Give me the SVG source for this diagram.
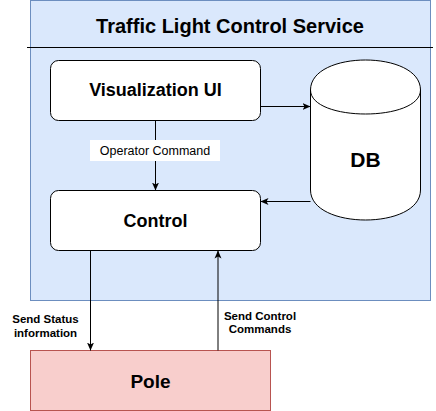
<svg xmlns="http://www.w3.org/2000/svg" width="436" height="411" viewBox="0 0 436 411">
  <defs>
    <marker id="arr" viewBox="0 0 8 8" refX="8" refY="4" markerWidth="8" markerHeight="8" markerUnits="userSpaceOnUse" orient="auto">
      <path d="M0,0.5 L8,4 L0,7.5 L2,4 Z" fill="#000"/>
    </marker>
    <style>
      .box { fill: #ffffff; stroke: #000000; stroke-width: 1; }
      .title { font-family: "Liberation Sans", Arial, sans-serif; font-weight: bold; fill: #000; text-anchor: middle; }
      .lbl { font-family: "Liberation Sans", Arial, sans-serif; fill: #000; text-anchor: middle; }
      .edge { stroke: #000; stroke-width: 1; fill: none; marker-end: url(#arr); }
    </style>
  </defs>

  <g id="container">
    <rect x="30.5" y="0.5" width="400" height="300" fill="#dae8fc" stroke="#6c8ebf" stroke-width="1"/>
    <line x1="27" y1="47.5" x2="433" y2="47.5" stroke="#000" stroke-width="1"/>
    <text class="title" x="230" y="33" font-size="20">Traffic Light Control Service</text>
  </g>

  <g id="visualization-ui">
    <rect class="box" x="50.5" y="60.5" width="210" height="60" rx="8" ry="8"/>
    <text class="title" x="155.5" y="96" font-size="18">Visualization UI</text>
  </g>

  <g id="control">
    <rect class="box" x="50.5" y="190.5" width="210" height="60" rx="8" ry="8"/>
    <text class="title" x="155.5" y="227" font-size="18">Control</text>
  </g>

  <g id="db">
    <path class="box" d="M310.5,90 C310.5,50 420.5,50 420.5,90 L420.5,190 C420.5,230 310.5,230 310.5,190 Z"/>
    <path d="M310.5,90 C310.5,122 420.5,122 420.5,90" fill="none" stroke="#000" stroke-width="1"/>
    <text class="title" x="365.5" y="167" font-size="21">DB</text>
  </g>

  <g id="pole">
    <rect x="30.5" y="350.5" width="240" height="60" fill="#f8cecc" stroke="#b85450" stroke-width="1"/>
    <text class="title" x="150.5" y="388" font-size="19">Pole</text>
  </g>

  <g id="connectors">
    <line class="edge" x1="260.5" y1="106.5" x2="310.5" y2="106.5"/>
    <line class="edge" x1="310.5" y1="201.5" x2="260.5" y2="201.5"/>
    <line class="edge" x1="155.5" y1="120.5" x2="155.5" y2="190.5"/>
    <line class="edge" x1="90.5" y1="250.5" x2="90.5" y2="350.5"/>
    <line class="edge" x1="218" y1="350.5" x2="218" y2="250.5"/>

    <rect x="90" y="140" width="130" height="21" fill="#ffffff"/>
    <text class="lbl" x="155" y="155" font-size="12.5">Operator Command</text>

    <text class="lbl" x="45.5" y="323" font-size="11.5" font-weight="bold">Send Status</text>
    <text class="lbl" x="45.5" y="337" font-size="11.5" font-weight="bold">information</text>

    <text class="lbl" x="260" y="320" font-size="11.5" font-weight="bold">Send Control</text>
    <text class="lbl" x="260" y="333" font-size="11.5" font-weight="bold">Commands</text>
  </g>
</svg>
